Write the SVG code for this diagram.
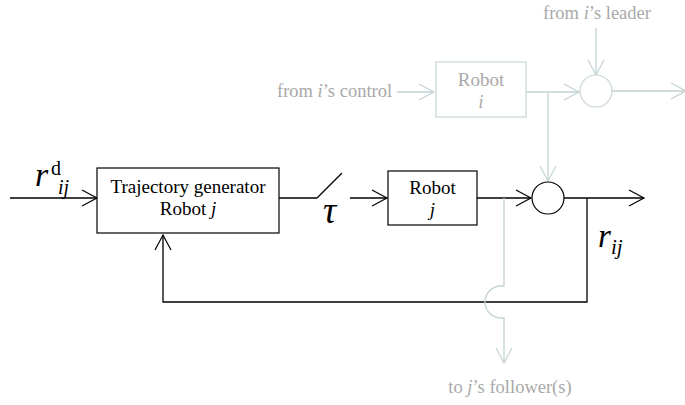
<svg xmlns="http://www.w3.org/2000/svg" width="685" height="405" viewBox="0 0 685 405">
<defs>
<marker id="ah" markerUnits="userSpaceOnUse" markerWidth="20" markerHeight="20" viewBox="-16 -10 20 20" refX="0" refY="0" orient="auto" overflow="visible">
<path d="M-15,-8 L0,0 L-15,8" fill="none" stroke="#000" stroke-width="1.2"/>
</marker>
<marker id="ahg" markerUnits="userSpaceOnUse" markerWidth="20" markerHeight="20" viewBox="-16 -10 20 20" refX="0" refY="0" orient="auto" overflow="visible">
<path d="M-15,-8 L0,0 L-15,8" fill="none" stroke="#c3d3d3" stroke-width="1.2"/>
</marker>
</defs>
<style>
.k{fill:none;stroke:#000;stroke-width:1.3}
.g{fill:none;stroke:#c3d3d3;stroke-width:1.3}
.box{fill:#fff;stroke:#000;stroke-width:1.2}
.gbox{fill:#fff;stroke:#c8d6d6;stroke-width:1.2}
.t{fill:#000}
.gt{fill:#a9a9a9}
.it{font-style:italic}
</style>
<g id="connectors">
<line class="k" x1="10" y1="198" x2="97" y2="198" marker-end="url(#ah)"/>
<line class="k" x1="279" y1="198" x2="317" y2="198"/>
<line class="k" x1="317" y1="198" x2="342" y2="173"/>
<line class="k" x1="350" y1="198" x2="387" y2="198" marker-end="url(#ah)"/>
<line class="k" x1="477" y1="198" x2="531" y2="198" marker-end="url(#ah)"/>
<line class="k" x1="564" y1="198" x2="644" y2="198" marker-end="url(#ah)"/>
<polyline class="k" points="587,198 587,302 163,302 163,235" marker-end="url(#ah)"/>
<path class="g" d="M504,198 L504,286 L501,286 A16,16 0 0 0 501,318 L504,318 L504,363" marker-end="url(#ahg)"/>
<line class="g" x1="397" y1="92" x2="434" y2="92" marker-end="url(#ahg)"/>
<line class="g" x1="526" y1="92" x2="579" y2="92" marker-end="url(#ahg)"/>
<line class="g" x1="548" y1="92" x2="548" y2="181" marker-end="url(#ahg)"/>
<line class="g" x1="596" y1="28" x2="596" y2="75" marker-end="url(#ahg)"/>
<line class="g" x1="612" y1="91" x2="686" y2="91" marker-end="url(#ahg)"/>
</g>
<g id="trajectory-generator" font-family="'Liberation Serif', serif" font-size="19">
<rect class="box" x="97" y="168" width="182" height="65"/>
<text class="t" x="188" y="193" text-anchor="middle">Trajectory generator</text>
<text class="t" x="188" y="215" text-anchor="middle">Robot <tspan class="it">j</tspan></text>
</g>
<g id="robot-j" font-family="'Liberation Serif', serif" font-size="19">
<rect class="box" x="388" y="171" width="89" height="54"/>
<text class="t" x="432.5" y="194" text-anchor="middle">Robot</text>
<text class="t it" x="432.5" y="216" text-anchor="middle">j</text>
</g>
<g id="sum-j">
<circle class="box" cx="548" cy="198" r="16"/>
</g>
<g id="robot-i" font-family="'Liberation Serif', serif" font-size="19">
<rect class="gbox" x="436" y="62" width="90" height="55"/>
<text class="gt" x="481" y="86" text-anchor="middle">Robot</text>
<text class="gt it" x="481" y="108" text-anchor="middle">i</text>
</g>
<g id="sum-i">
<circle class="gbox" cx="596" cy="91" r="16"/>
</g>
<g id="labels" font-family="'Liberation Serif', serif">
<text class="t it" x="35" y="186" font-size="34">r</text>
<text class="t" x="51" y="175" font-size="20">d</text>
<text class="t it" x="58" y="194" font-size="20">ij</text>
<text class="t it" x="323" y="223" font-size="37">τ</text>
<text class="t it" x="598" y="247" font-size="33">r</text>
<text class="t it" x="611" y="254" font-size="21">ij</text>
<text class="gt" x="277" y="97" font-size="18.5">from <tspan class="it">i</tspan>’s control</text>
<text class="gt" x="597" y="19" text-anchor="middle" font-size="18.5">from <tspan class="it">i</tspan>’s leader</text>
<text class="gt" x="510" y="393" text-anchor="middle" font-size="18.5">to <tspan class="it">j</tspan>’s follower(s)</text>
</g>
</svg>
